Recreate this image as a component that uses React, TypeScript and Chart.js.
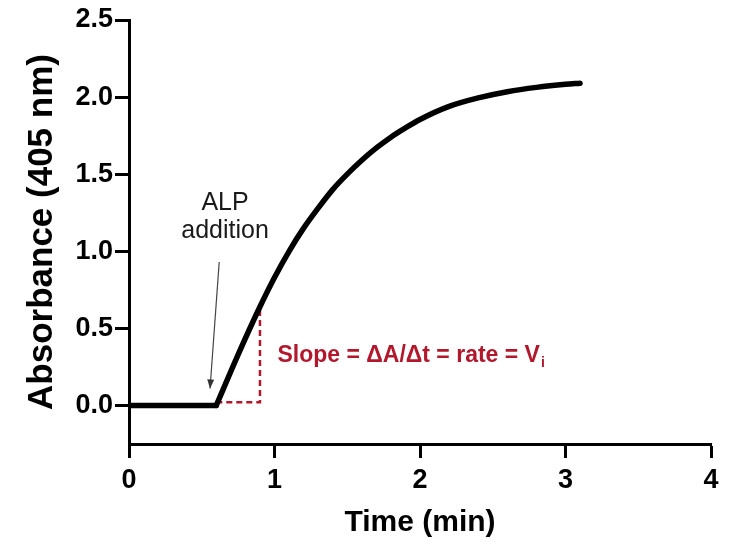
import React, { useEffect, useRef } from "react";
import { Chart, registerables } from "chart.js";

Chart.register(...registerables);

// ---- data ----
const baselineTime = [0, 0.3, 0.6];
const baselineAbs = [0, 0, 0];
const riseTime = [0.6, 0.75, 0.9, 1.0, 1.1, 1.2, 1.3, 1.4, 1.5, 1.6, 1.7, 1.8, 1.9, 2.0, 2.2, 2.4, 2.6, 2.8, 3.0, 3.1];
const riseAbs = [0, 0.33, 0.64, 0.83, 1.0, 1.15, 1.28, 1.4, 1.5, 1.59, 1.67, 1.74, 1.8, 1.855, 1.94, 1.995, 2.035, 2.063, 2.083, 2.09];
const yTickValues = [0, 0.5, 1.0, 1.5, 2.0, 2.5];
const xTickValues = [0, 1, 2, 3, 4];
const xTitle = "Time (min)";
const yTitle = "Absorbance (405 nm)";
const addLabel = ["ALP", "addition"];
const slopeLabel = "Slope = ΔA/Δt = rate = V";
const slopeSub = "i";

const FONT = "'Liberation Sans', Arial, Helvetica, sans-serif";
const RED = "#b3172c";

const annotationPlugin = {
  id: "annots",
  beforeDatasetsDraw(chart: any) {
    const { ctx, scales } = chart;
    const x = scales.x, y = scales.y;
    ctx.save();
    ctx.strokeStyle = RED;
    ctx.lineWidth = 2.5;
    ctx.setLineDash([6, 4]);
    ctx.beginPath();
    ctx.moveTo(x.getPixelForValue(0.6), y.getPixelForValue(0.02));
    ctx.lineTo(x.getPixelForValue(0.9), y.getPixelForValue(0.02));
    ctx.lineTo(x.getPixelForValue(0.9), y.getPixelForValue(0.64));
    ctx.stroke();
    ctx.restore();
  },
  afterDraw(chart: any) {
    const { ctx, scales } = chart;
    const x = scales.x, y = scales.y;
    ctx.save();
    // ALP addition label
    ctx.fillStyle = "#1a1a1a";
    ctx.font = `25px ${FONT}`;
    ctx.textAlign = "center";
    ctx.textBaseline = "middle";
    ctx.fillText(addLabel[0], x.getPixelForValue(0.66), y.getPixelForValue(1.31));
    ctx.fillText(addLabel[1], x.getPixelForValue(0.66), y.getPixelForValue(1.13));
    // arrow
    const x1 = x.getPixelForValue(0.62), y1 = y.getPixelForValue(0.93);
    const x2 = x.getPixelForValue(0.557), y2 = y.getPixelForValue(0.11);
    ctx.strokeStyle = "#444";
    ctx.lineWidth = 1.2;
    ctx.beginPath();
    ctx.moveTo(x1, y1);
    ctx.lineTo(x2, y2);
    ctx.stroke();
    const ang = Math.atan2(y2 - y1, x2 - x1);
    const len = 9, half = 3.5;
    ctx.fillStyle = "#333";
    ctx.beginPath();
    ctx.moveTo(x2, y2);
    ctx.lineTo(x2 - len * Math.cos(ang) + half * Math.sin(ang), y2 - len * Math.sin(ang) - half * Math.cos(ang));
    ctx.lineTo(x2 - len * Math.cos(ang) - half * Math.sin(ang), y2 - len * Math.sin(ang) + half * Math.cos(ang));
    ctx.closePath();
    ctx.fill();
    // slope label
    ctx.fillStyle = RED;
    ctx.font = `bold 23px ${FONT}`;
    ctx.textAlign = "left";
    ctx.textBaseline = "middle";
    const tx = x.getPixelForValue(1.02), ty = y.getPixelForValue(0.32);
    ctx.fillText(slopeLabel, tx, ty);
    const w = ctx.measureText(slopeLabel).width;
    ctx.font = `bold 14px ${FONT}`;
    ctx.fillText(slopeSub, tx + w + 1, ty + 7);
    ctx.restore();
  },
};

export default function App() {
  const ref = useRef<HTMLCanvasElement>(null);
  useEffect(() => {
    if (!ref.current) return;
    const chart = new Chart(ref.current, {
      type: "line",
      data: {
        datasets: [
          {
            data: baselineTime.map((t, i) => ({ x: t, y: baselineAbs[i] })),
            borderColor: "#000",
            borderWidth: 5.5,
            pointRadius: 0,
            borderCapStyle: "round",
          },
          {
            data: riseTime.map((t, i) => ({ x: t, y: riseAbs[i] })),
            borderColor: "#000",
            borderWidth: 5.5,
            pointRadius: 0,
            cubicInterpolationMode: "monotone",
            borderCapStyle: "round",
          },
        ],
      },
      options: {
        responsive: false,
        animation: false,
        layout: { padding: { top: 20, right: 19, bottom: 0, left: 0 } },
        plugins: { legend: { display: false }, tooltip: { enabled: false } },
        scales: {
          x: {
            type: "linear",
            min: 0,
            max: 4,
            afterBuildTicks: (s: any) => {
              s.ticks = xTickValues.map((v) => ({ value: v }));
            },
            afterFit: (s: any) => {
              s.height = 105;
            },
            border: { display: true, color: "#000", width: 3 },
            grid: { display: true, drawOnChartArea: false, drawTicks: true, tickLength: 14, tickWidth: 3, tickColor: "#000" },
            ticks: {
              color: "#000",
              font: { family: FONT, size: 27, weight: "bold" },
              padding: 6,
              maxRotation: 0,
              callback: (v: any) => String(v),
            },
            title: {
              display: true,
              text: xTitle,
              color: "#000",
              font: { family: FONT, size: 30, weight: "bold" },
              padding: { top: 0, bottom: 8 },
            },
          },
          y: {
            type: "linear",
            min: -0.25,
            max: 2.5,
            afterBuildTicks: (s: any) => {
              s.ticks = yTickValues.map((v) => ({ value: v }));
            },
            afterFit: (s: any) => {
              s.width = 129;
            },
            border: { display: true, color: "#000", width: 3 },
            grid: { display: true, drawOnChartArea: false, drawTicks: true, tickLength: 14, tickWidth: 3, tickColor: "#000" },
            ticks: {
              color: "#000",
              font: { family: FONT, size: 27, weight: "bold" },
              padding: 2,
              callback: (v: any) => Number(v).toFixed(1),
            },
            title: {
              display: true,
              text: yTitle,
              color: "#000",
              font: { family: FONT, size: 35, weight: "bold" },
              padding: { top: 21, bottom: 0 },
            },
          },
        },
      },
      plugins: [annotationPlugin],
    } as any);
    return () => chart.destroy();
  }, []);
  return (
    <div style={{ position: "fixed", left: 0, top: 0, width: 730, height: 549, background: "#fff" }}>
      <canvas ref={ref} width={730} height={549} />
    </div>
  );
}
